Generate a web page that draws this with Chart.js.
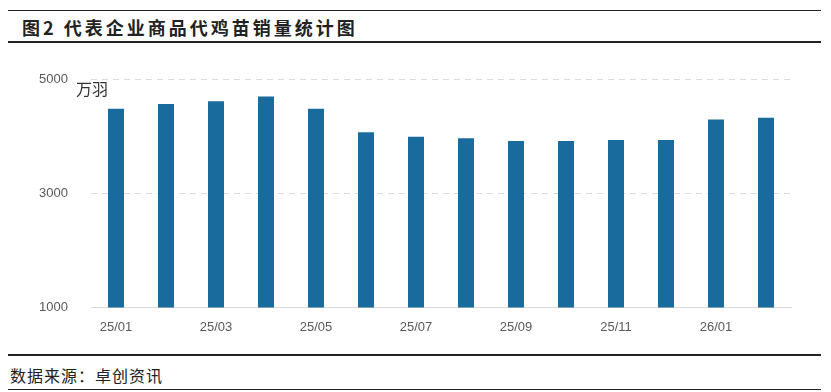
<!DOCTYPE html>
<html>
<head>
<meta charset="utf-8">
<script src="https://cdn.jsdelivr.net/npm/chart.js@4.4.1/dist/chart.umd.min.js"></script>
<style>
  body { margin: 0; background: #fff; width: 831px; height: 392px; overflow: hidden; position: relative; font-family: "Noto Sans CJK SC", sans-serif; }
  .rule { position: absolute; left: 8px; right: 10px; background: #222; }
  #title { position: absolute; left: 22px; top: 15px; font-size: 18px; font-weight: bold; letter-spacing: 3px; color: #222; line-height: 24px; }
  #unit { position: absolute; left: 76px; top: 76px; font-size: 16px; color: #333; }
  #source { position: absolute; left: 10px; top: 363px; font-size: 16px; color: #222; letter-spacing: 1px; }
  #wrap { position: absolute; left: 0; top: 48px; width: 831px; height: 300px; }
</style>
</head>
<body>
<div class="rule" style="top:10px;height:1px;"></div>
<div id="title">图2 代表企业商品代鸡苗销量统计图</div>
<div class="rule" style="top:41px;height:2px;"></div>
<div id="wrap"><canvas id="barChart"></canvas></div>
<div id="unit">万羽</div>
<div class="rule" style="top:354px;height:2px;"></div>
<div id="source">数据来源：卓创资讯</div>
<div class="rule" style="top:389px;height:1px;"></div>
<script>
// months 25/01 .. 26/02
const months = ["25/01", "25/02", "25/03", "25/04", "25/05", "25/06", "25/07",
  "25/08", "25/09", "25/10", "25/11", "25/12", "26/01", "26/02"];
// sales, 万羽
const sales = [4485, 4570, 4620, 4700, 4485, 4075, 3995,
  3970, 3920, 3920, 3940, 3940, 4300, 4330];
const yTicks = [1000, 3000, 5000];

const ctx = document.getElementById("barChart").getContext("2d");
new Chart(ctx, {
  type: "bar",
  data: {
    labels: months,
    datasets: [
      {
        label: "销量",
        data: sales,
        backgroundColor: "#186b9c",
        barPercentage: 0.64,
        categoryPercentage: 0.5,
      },
    ],
  },
  options: {
    responsive: true,
    maintainAspectRatio: false,
    animation: false,
    layout: { padding: { top: 31.5, right: 40, bottom: 9, left: 0 } },
    plugins: {
      legend: { display: false },
      tooltip: { enabled: false },
    },
    scales: {
      x: {
        grid: { display: false },
        border: { display: true, color: "#d9d9d9" },
        ticks: {
          autoSkip: false,
          maxRotation: 0,
          padding: 4,
          color: "#595959",
          font: { family: "Liberation Sans", size: 13 },
          callback: function (val, i) {
            return i % 2 === 0 ? months[i] : "";
          },
        },
      },
      y: {
        min: 1000,
        max: 5000,
        afterBuildTicks: function (scale) {
          scale.ticks = yTicks.map((v) => ({ value: v }));
        },
        afterFit: function (scale) {
          scale.width = 91;
        },
        border: { display: false, dash: [6, 5] },
        grid: {
          drawTicks: false,
          color: function (c) {
            return c.tick && c.tick.value === 1000 ? "rgba(0,0,0,0)" : "#dcdcdc";
          },
        },
        ticks: {
          padding: 23,
          color: "#595959",
          font: { family: "Liberation Sans", size: 13 },
          callback: function (v) {
            return String(v);
          },
        },
      },
    },
  },
});
</script>
</body>
</html>
